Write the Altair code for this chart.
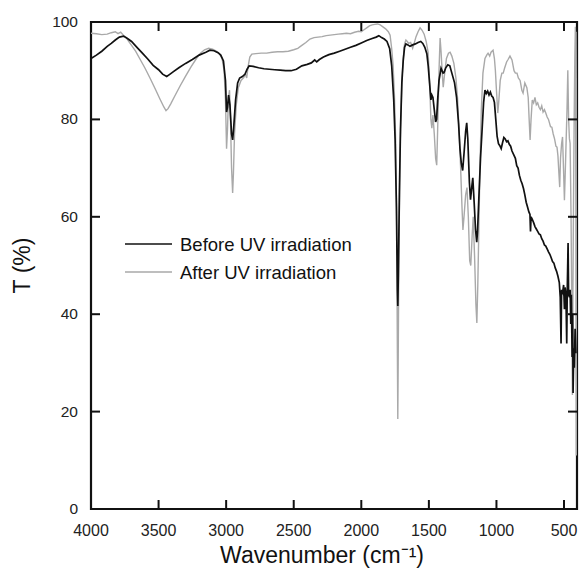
import altair as alt
import pandas as pd

# ---- data (wavenumber in cm-1, transmittance in %) ----
before_wn = [4000, 3960, 3920, 3880, 3850, 3820, 3790, 3760, 3730, 3700, 3660, 3620, 3580, 3540, 3500,
             3470, 3440, 3420, 3390, 3350, 3300, 3250, 3200, 3150, 3120, 3090, 3060, 3040, 3020, 3005,
             2997, 2990, 2982, 2972, 2960, 2952, 2945, 2930, 2915, 2900, 2880, 2860, 2845, 2830, 2800,
             2760, 2720, 2680, 2640, 2600, 2560, 2520, 2480, 2440, 2400, 2370, 2345, 2330, 2310, 2280,
             2240, 2200, 2160, 2120, 2080, 2040, 2000, 1960, 1920, 1890, 1870, 1850, 1830, 1810, 1790,
             1775, 1760, 1750, 1740, 1733, 1730, 1726, 1718, 1710, 1700, 1690, 1680, 1670, 1655, 1640,
             1620, 1600, 1580, 1560, 1545, 1530, 1515, 1505, 1495, 1485, 1478, 1470, 1460, 1450, 1443,
             1435, 1425, 1410, 1395, 1388, 1375, 1360, 1345, 1330, 1310, 1295, 1280, 1270, 1260, 1250,
             1240, 1228, 1220, 1212, 1200, 1192, 1183, 1175, 1165, 1155, 1146, 1140, 1130, 1118, 1105,
             1095, 1085, 1075, 1065, 1055, 1045, 1035, 1025, 1015, 1005, 995, 985, 975, 965, 955,
             945, 935, 925, 915, 905, 895, 885, 870, 860, 850, 840, 830, 820, 810, 800,
             790, 780, 770, 760, 752, 748, 744, 735, 725, 715, 705, 695, 685, 675, 665,
             655, 645, 635, 625, 615, 605, 595, 585, 575, 565, 555, 545, 535, 528, 522,
             518, 510, 503, 497, 492, 486, 480, 476, 470, 466, 460, 455, 450, 446, 440,
             436, 433, 428, 424, 418, 412]
before_T = [92.5, 93.2, 94.0, 95.0, 95.6, 96.3, 96.9, 97.1, 96.6, 96.0, 94.8, 93.6, 92.4, 91.1, 90.2,
            89.3, 88.8, 89.2, 89.8, 90.6, 91.5, 92.3, 93.2, 93.8, 94.2, 94.1, 93.7, 93.2, 92.0, 88.0,
            81.5, 82.5, 85.0, 83.0, 77.0, 75.8, 78.0, 84.0, 87.5, 88.5, 88.8, 89.3, 90.3, 91.0, 90.9,
            90.6, 90.4, 90.3, 90.2, 90.1, 90.0, 90.0, 90.3, 91.0, 91.3, 91.6, 92.2, 91.8, 92.3, 92.8,
            93.3, 93.6, 94.0, 94.4, 94.8, 95.2, 95.7, 96.2, 96.6, 96.9, 97.2, 96.8, 96.5, 96.0, 94.5,
            91.0, 84.0, 76.0, 62.0, 45.0, 41.7, 48.0, 65.0, 78.0, 87.5, 92.0, 94.8, 95.5, 95.3, 95.0,
            95.3, 95.5, 95.8, 96.0, 95.6, 94.8, 93.5, 91.0, 87.5, 84.0, 85.0, 84.5, 82.0, 79.5, 80.0,
            84.0, 88.0, 90.5, 89.5, 89.6, 90.6, 91.2, 91.0, 89.5, 87.5, 84.5, 79.0, 74.0, 71.0, 69.5,
            73.0, 77.5, 79.3, 76.0, 67.0, 63.5, 66.0, 68.0, 63.0, 57.5, 54.8, 57.0, 64.0, 72.0, 78.5,
            83.5, 86.0, 85.3, 85.8, 85.0, 85.6, 84.8, 84.5, 83.5, 80.0, 76.5, 75.0, 74.6, 74.0, 75.2,
            76.3, 76.0, 75.4, 75.6, 74.9, 74.5, 73.5, 72.6, 72.0, 70.5, 70.0, 68.5, 67.5, 66.8, 65.8,
            64.5, 63.0, 62.0, 61.0, 60.5, 57.0, 60.0, 59.5, 58.8, 58.0, 57.5, 57.0, 56.5, 56.3, 55.5,
            55.0, 54.2, 54.0, 53.4, 52.8, 52.3, 51.6, 50.8, 50.5, 49.5, 48.8, 47.8, 46.5, 43.5, 34.0,
            45.0, 44.5, 46.0, 41.0, 45.5, 44.0, 34.0, 45.0, 54.6, 44.0, 43.5, 45.0, 38.0, 44.0, 31.2,
            40.0, 23.8, 33.0, 29.0, 37.0, 32.0]

after_wn = [4000, 3960, 3920, 3880, 3850, 3820, 3800, 3780, 3760, 3740, 3720, 3700, 3670, 3640, 3600,
            3560, 3520, 3490, 3460, 3445, 3430, 3410, 3380, 3340, 3300, 3260, 3220, 3190, 3160, 3130,
            3100, 3070, 3050, 3030, 3015, 3005, 2997, 2990, 2983, 2975, 2968, 2960, 2952, 2946, 2938,
            2925, 2910, 2890, 2870, 2858, 2848, 2838, 2825, 2810, 2780, 2740, 2700, 2660, 2620, 2580,
            2540, 2500, 2470, 2440, 2410, 2380, 2350, 2320, 2290, 2260, 2230, 2200, 2170, 2140, 2110,
            2080, 2050, 2020, 2000, 1980, 1960, 1940, 1920, 1900, 1880, 1860, 1840, 1820, 1800, 1787,
            1775, 1765, 1755, 1745, 1738, 1733, 1730, 1727, 1722, 1713, 1705, 1700, 1690, 1680, 1670,
            1660, 1650, 1635, 1620, 1610, 1595, 1580, 1565, 1550, 1535, 1520, 1506, 1495, 1485, 1478,
            1470, 1460, 1450, 1442, 1435, 1425, 1417, 1410, 1400, 1394, 1385, 1370, 1355, 1343, 1330,
            1315, 1300, 1288, 1275, 1265, 1255, 1248, 1240, 1228, 1218, 1208, 1198, 1190, 1180, 1172,
            1162, 1152, 1145, 1138, 1130, 1122, 1112, 1100, 1085, 1070, 1062, 1050, 1040, 1025, 1015,
            1008, 1000, 990, 982, 972, 960, 950, 940, 925, 914, 900, 885, 870, 860, 848,
            838, 825, 812, 803, 790, 775, 765, 758, 751, 744, 735, 725, 715, 705, 695,
            685, 675, 665, 655, 645, 635, 625, 615, 600, 590, 580, 570, 560, 552, 545,
            538, 532, 526, 518, 511, 504, 497, 492, 486, 478, 472, 466, 460, 455, 448,
            442, 438, 434, 430, 425, 420, 416, 412, 409, 406, 404]
after_T = [97.7, 97.6, 97.4, 97.5, 97.8, 98.0, 97.6, 97.9, 97.3, 96.8, 96.0, 95.2, 94.0, 92.5, 90.5,
           88.3, 86.0, 84.2, 82.5, 81.8, 82.2, 83.2, 84.8, 86.9, 88.9, 90.8, 92.5, 93.6, 94.3, 94.6,
           94.4, 94.0, 93.5, 92.5, 90.0, 84.0, 74.0, 78.0, 84.5, 86.0, 80.0, 70.0, 64.9, 69.0, 77.0,
           83.0, 86.5, 88.0, 88.6, 89.3, 88.5, 90.8, 92.8, 93.4, 93.5, 93.6, 93.6, 93.8, 93.9, 93.9,
           94.0, 94.3, 94.6, 95.2, 95.8, 96.5, 96.8, 96.9, 97.0, 97.2, 97.3, 97.4, 97.5, 97.6, 97.7,
           97.6, 97.9, 98.1, 98.0, 98.4, 98.8, 99.2, 99.4, 99.5, 99.6, 99.4, 99.0, 98.6, 98.0, 97.3,
           94.5, 91.2, 85.0, 75.0, 58.0, 32.0, 18.5, 30.0, 52.0, 74.0, 82.0, 87.7, 92.5, 95.5, 96.3,
           96.0, 95.6, 95.8, 94.6, 95.5, 97.0, 98.0, 98.8, 98.3, 97.5, 96.0, 93.8, 88.0, 80.0, 78.2,
           80.9, 77.0, 72.0, 70.6, 78.0, 90.0, 96.7, 94.0, 89.0, 86.6, 89.0, 92.5, 93.6, 93.8, 93.0,
           91.5, 88.5, 84.4, 77.0, 70.0, 62.0, 57.3, 60.0, 64.5, 66.0, 60.0, 51.0, 50.0, 56.0, 60.0,
           52.0, 42.0, 38.2, 46.0, 58.0, 70.0, 82.0, 89.5, 92.5, 93.3, 93.6, 93.0, 93.8, 94.2, 92.5,
           90.1, 86.0, 81.3, 84.0, 88.0, 89.5, 89.5, 90.5, 91.8, 92.3, 93.0, 92.2, 90.0, 89.5, 89.5,
           88.5, 88.0, 86.0, 85.4, 87.5, 86.5, 84.5, 80.0, 75.8, 80.0, 84.0, 83.4, 84.5, 83.0, 83.4,
           82.5, 82.0, 82.8, 81.5, 82.0, 81.3, 80.5, 80.0, 78.5, 78.4, 77.0, 76.0, 74.5, 74.3, 72.5,
           69.0, 66.1, 72.0, 75.0, 76.4, 70.0, 63.4, 68.0, 74.0, 82.0, 90.1, 80.0, 76.0, 75.1, 60.0,
           40.0, 23.4, 45.0, 62.0, 80.0, 93.0, 99.0, 60.0, 11.0, 55.0, 98.0]

x_label_values = [4000, 3500, 3000, 2500, 2000, 1500, 1000, 500]
x_tick_marks = [3500, 3000, 2500, 2000, 1500, 1000, 500]
y_label_values = [0, 20, 40, 60, 80, 100]
y_tick_marks = [20, 40, 60, 80]
x_title = "Wavenumber (cm\u207b\u00b9)"
y_title = "T (%)"
legend_labels = ["Before UV irradiation", "After UV irradiation"]
line_colors = ["#111111", "#a9a9a9"]

W, H = 486, 487
X_MIN, X_MAX = 404, 4000
Y_MIN, Y_MAX = 0, 100
TICK_PX = 9
FONT = "Liberation Sans"

# tick length expressed in data units of each scale
tick_dy = TICK_PX * (Y_MAX - Y_MIN) / H
tick_dx = TICK_PX * (X_MAX - X_MIN) / W

df_before = pd.DataFrame({"wn": before_wn, "T": before_T})
df_after = pd.DataFrame({"wn": after_wn, "T": after_T})

x_scale = alt.Scale(domain=[X_MIN, X_MAX], reverse=True, nice=False, zero=False)
y_scale = alt.Scale(domain=[Y_MIN, Y_MAX], nice=False, zero=False)


def XF(f):
    return alt.X(f, scale=x_scale, axis=None)


def YF(f):
    return alt.Y(f, scale=y_scale, axis=None)


line_after = alt.Chart(df_after).mark_line(strokeWidth=1.4, color=line_colors[1], clip=True).encode(
    x=XF("wn:Q"), y=YF("T:Q"))
line_before = alt.Chart(df_before).mark_line(strokeWidth=1.7, color=line_colors[0], clip=True).encode(
    x=XF("wn:Q"), y=YF("T:Q"))

# inward tick marks on all four sides, drawn as two-point line paths through the scales
xt = pd.DataFrame({"xv": x_tick_marks})
yt = pd.DataFrame({"yv": y_tick_marks})
ls = dict(color="#111111", strokeWidth=2)


def x_ticks(edge, inner):
    return alt.Chart(xt).transform_calculate(
        p0=f"{edge}", p1=f"{inner}").transform_fold(["p0", "p1"], as_=["end", "pos"]).mark_line(**ls).encode(
        x=XF("xv:Q"), y=YF("pos:Q"), detail="xv:N", order="end:N")


def y_ticks(edge, inner):
    return alt.Chart(yt).transform_calculate(
        p0=f"{edge}", p1=f"{inner}").transform_fold(["p0", "p1"], as_=["end", "pos"]).mark_line(**ls).encode(
        y=YF("yv:Q"), x=XF("pos:Q"), detail="yv:N", order="end:N")


ticks_bottom = x_ticks(Y_MIN, Y_MIN + tick_dy)
ticks_top = x_ticks(Y_MAX, Y_MAX - tick_dy)
ticks_left = y_ticks(X_MAX, X_MAX - tick_dx)
ticks_right = y_ticks(X_MIN, X_MIN + tick_dx)

# tick labels, positioned by the scales
xl = pd.DataFrame({"xl": x_label_values})
yl = pd.DataFrame({"yl": y_label_values})
x_labels = alt.Chart(xl).mark_text(baseline="top", align="center", fontSize=16, font=FONT,
                                   color="#222222").encode(
    x=XF("xl:Q"), y=alt.value(H + 14), text=alt.Text("xl:Q", format="d"))
y_labels = alt.Chart(yl).mark_text(baseline="middle", align="right", fontSize=15.5, font=FONT,
                                   color="#222222").encode(
    y=YF("yl:Q"), x=alt.value(-13), text=alt.Text("yl:Q", format="d"))

# axis titles
x_title_mark = alt.Chart(pd.DataFrame({"t": [x_title]})).mark_text(
    baseline="alphabetic", align="center", fontSize=23, font=FONT, color="#111111").encode(
    x=alt.value(231), y=alt.value(H + 54), text="t:N")
y_title_mark = alt.Chart(pd.DataFrame({"t": [y_title]})).mark_text(
    baseline="alphabetic", align="center", fontSize=23, font=FONT, color="#111111", angle=270).encode(
    x=alt.value(-61), y=alt.value(H / 2), text="t:N")

legend_layers = []
for i, (lab, col) in enumerate(zip(legend_labels, line_colors)):
    d = pd.DataFrame({"label": [lab]})
    yy = 222 + 28 * i
    legend_layers.append(alt.Chart(d).mark_rule(color=col, strokeWidth=1.7 if i == 0 else 1.4).encode(
        x=alt.value(34), x2=alt.value(81), y=alt.value(yy)))
    legend_layers.append(alt.Chart(d).mark_text(align="left", baseline="middle", fontSize=18.5,
                                                font=FONT, color="#111111").encode(
        x=alt.value(89), y=alt.value(yy + 1), text="label:N"))

chart = alt.layer(
    line_after, line_before, ticks_bottom, ticks_top, ticks_left, ticks_right,
    x_labels, y_labels, x_title_mark, y_title_mark, *legend_layers
).properties(
    width=W, height=H,
    autosize=alt.AutoSizeParams(type="none"),
    padding={"left": 91, "top": 22, "right": 3, "bottom": 60},
).configure(font=FONT).configure_view(stroke="#111111", strokeWidth=2.2)

chart.save("out.html", embed_options={"renderer": "svg", "actions": False})
